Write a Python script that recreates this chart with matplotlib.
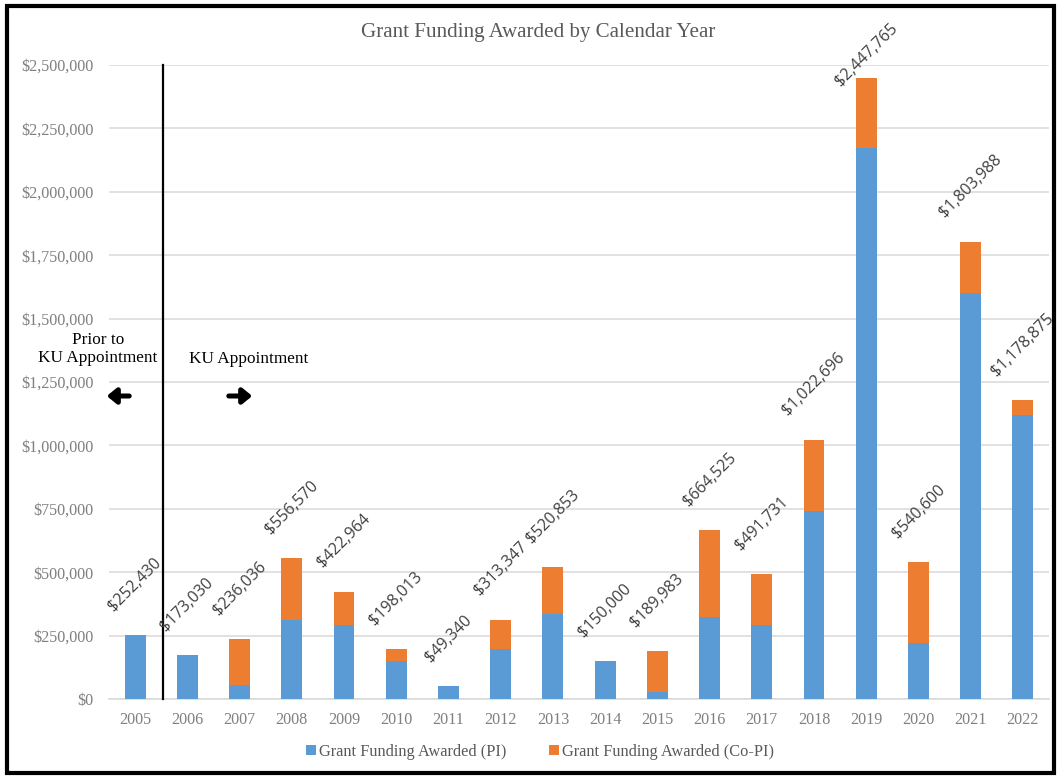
import numpy as np
import matplotlib
matplotlib.use("Agg")
import matplotlib.pyplot as plt
from matplotlib.patches import Rectangle
from matplotlib.ticker import FuncFormatter

years = [str(y) for y in range(2005, 2023)]
totals = [252430, 173030, 236036, 556570, 422964, 198013, 49340, 313347, 520853,
          150000, 189983, 664525, 491731, 1022696, 2447765, 540600, 1803988, 1178875]
pi_vals = [252430, 173030, 55000, 312000, 290000, 148000, 49340, 196000, 335000,
           150000, 28000, 322000, 291000, 740000, 2172000, 220000, 1600000, 1120000]
copi_vals = [t - p for t, p in zip(totals, pi_vals)]

blue, orange = "#5B9BD5", "#ED7D31"
grid_c, tick_c, title_c, lab_c = "#D9D9D9", "#7F7F7F", "#595959", "#404040"
serif = "Liberation Serif"

fig = plt.figure(figsize=(10.6, 7.78), dpi=100)
ax = fig.add_axes([109 / 1060, 79 / 778, 940 / 1060, 634 / 778])

x = np.arange(len(years))
ax.bar(x, pi_vals, width=0.4, color=blue, label="Grant Funding Awarded (PI)", zorder=3)
ax.bar(x, copi_vals, width=0.4, bottom=pi_vals, color=orange,
       label="Grant Funding Awarded (Co-PI)", zorder=3)

# value labels; the tallest one is pushed down to stay inside the chart, as Excel does
for i, t in enumerate(totals):
    dy = 15 if t < 2300000 else -8
    ax.annotate(f"${t:,.0f}", (i, t), xytext=(0, dy), textcoords="offset points",
                ha="center", va="bottom", rotation=45, fontsize=11.5,
                family="Open Sans", color=lab_c, zorder=5, annotation_clip=False)

ax.set_xlim(-0.5, len(years) - 0.5)
ax.set_ylim(0, 2500000)
ax.set_yticks(np.arange(0, 2500001, 250000))
ax.yaxis.set_major_formatter(FuncFormatter(lambda v, _: f"${v:,.0f}"))
ax.set_xticks(x)
ax.set_xticklabels(years)
ax.grid(axis="y", color=grid_c, lw=1.1, zorder=0)
ax.tick_params(length=0, colors=tick_c, labelsize=11.6)
ax.tick_params(axis="y", pad=11)
ax.tick_params(axis="x", pad=9)
for lb in ax.get_xticklabels() + ax.get_yticklabels():
    lb.set_family(serif)
for s in ["top", "right", "left"]:
    ax.spines[s].set_visible(False)
ax.spines["bottom"].set_color(grid_c)
ax.spines["bottom"].set_linewidth(1.1)

# appointment divider
ax.plot([0.54, 0.54], [0, 2500000], color="black", lw=1.6, zorder=4, clip_on=False)

fig.text(538 / 1060, 1 - 33 / 778, "Grant Funding Awarded by Calendar Year",
         ha="center", va="center", fontsize=15.1, family=serif, color=title_c)
fig.text(98 / 1060, 1 - 349 / 778, "Prior to\nKU Appointment", ha="center", va="center",
         fontsize=12.4, family=serif, color="black", linespacing=1.1)
fig.text(248.5 / 1060, 1 - 359 / 778, "KU Appointment", ha="center", va="center",
         fontsize=12.4, family=serif, color="black")
arrow = dict(arrowstyle="-|>,head_length=0.55,head_width=0.45", lw=3.6, color="black")
ax.annotate("", xy=(104 / 1060, 1 - 396 / 778), xytext=(132 / 1060, 1 - 396 / 778),
            xycoords="figure fraction", textcoords="figure fraction", arrowprops=arrow)
ax.annotate("", xy=(255 / 1060, 1 - 396 / 778), xytext=(226 / 1060, 1 - 396 / 778),
            xycoords="figure fraction", textcoords="figure fraction", arrowprops=arrow)

leg = fig.legend(loc="center", bbox_to_anchor=(540 / 1060, 1 - 752 / 778), ncol=2,
                 frameon=False, handlelength=0.6, handleheight=0.6, handletextpad=0.2,
                 columnspacing=2.6, prop={"family": serif, "size": 11.8})
for t in leg.get_texts():
    t.set_color(title_c)

fig.patches.append(Rectangle((7 / 1060, 5 / 778), 1047 / 1060, 767 / 778,
                             transform=fig.transFigure, fill=False, lw=3, ec="black"))

fig.savefig("out.png", dpi=100)
